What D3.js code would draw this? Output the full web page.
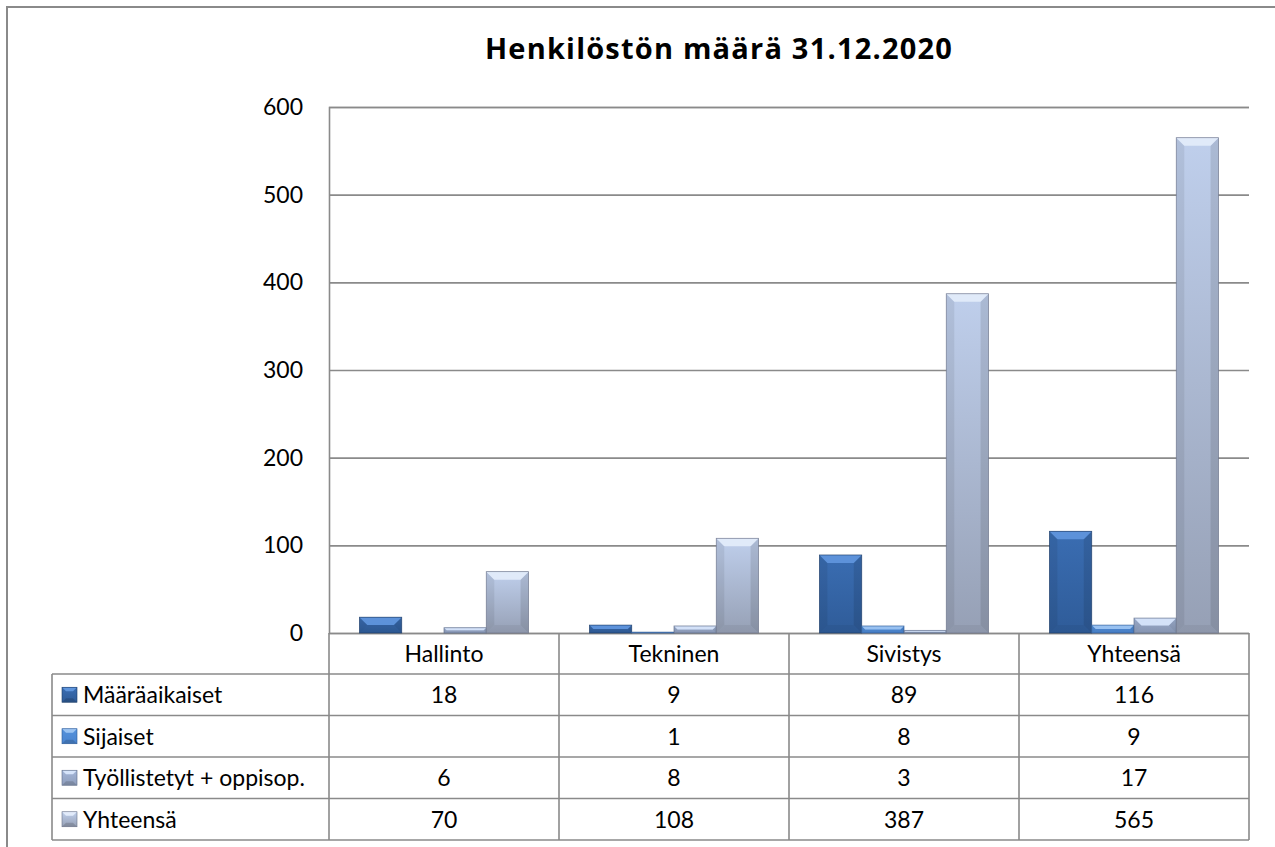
<!DOCTYPE html>
<html><head><meta charset="utf-8">
<script src="https://cdn.jsdelivr.net/npm/d3@7"></script>
<style>
html,body{margin:0;padding:0;background:#fff;}
svg{display:block;font-family:Lato,"Noto Sans",sans-serif;}
</style></head>
<body>
<svg id="chart" width="1275" height="847"></svg>
<script>
const categories = ["Hallinto","Tekninen","Sivistys","Yhteensä"];
const seriesNames = ["Määräaikaiset","Sijaiset","Työllistetyt + oppisop.","Yhteensä"];
const maaraaikaiset = [18, 9, 89, 116];
const sijaiset = [null, 1, 8, 9];
const tyollistetyt = [6, 8, 3, 17];
const yhteensa = [70, 108, 387, 565];
const yTicks = [0, 100, 200, 300, 400, 500, 600];
const title = "Henkilöstön määrä 31.12.2020";

const seriesValues = [maaraaikaiset, sijaiset, tyollistetyt, yhteensa];
const palette = [
  {ft:"#3a6db2", fb:"#2f5c99", top:"#5f95dc", edge:"#1d3c68"},
  {ft:"#5592dc", fb:"#4a84cf", top:"#9cc4f2", edge:"#2d5a96"},
  {ft:"#a4b6d8", fb:"#8e9dbb", top:"#d6e4fa", edge:"#5c6a86"},
  {ft:"#bfcfec", fb:"#96a0b5", top:"#e2ebfa", edge:"#6a7288"}
];
const FS = 23;

const svg = d3.select("#chart");
const defs = svg.append("defs");
palette.forEach((p,i)=>{
  const g = defs.append("linearGradient").attr("id","g"+i).attr("x1",0).attr("y1",0).attr("x2",0).attr("y2",1);
  g.append("stop").attr("offset","0%").attr("stop-color",p.ft);
  g.append("stop").attr("offset","100%").attr("stop-color",p.fb);
});

// outer frame
svg.append("rect").attr("x",7).attr("y",7).attr("width",1400).attr("height",1000)
  .attr("fill","none").attr("stroke","#8a8a8a").attr("stroke-width",2);

const plotL = 329, plotR = 1249, plotT = 107, plotB = 633;
const y = d3.scaleLinear().domain([0,600]).range([plotB, plotT]);
const x0 = d3.scaleBand().domain(categories).range([plotL, plotR]).padding(0);
const x1 = d3.scaleBand().domain(seriesNames).range([0, x0.bandwidth()]).paddingInner(0).paddingOuter(0.72);

// title
svg.append("text").attr("x",719).attr("y",59).attr("text-anchor","middle")
  .attr("font-family","'Open Sans',Lato,sans-serif").attr("letter-spacing",1.2)
  .attr("font-size",29).attr("font-weight","bold").attr("fill","#000").text(title);

// y axis with gridlines
const yAxis = svg.append("g").attr("transform",`translate(${plotL},0)`)
  .call(d3.axisLeft(y).tickValues(yTicks).tickSize(-(plotR-plotL)).tickPadding(26).tickFormat(d3.format("d")));
yAxis.select(".domain").attr("stroke","#8a8a8a").attr("stroke-width",1.6);
yAxis.selectAll(".tick line").attr("stroke","#8a8a8a").attr("stroke-width",1.6);
yAxis.selectAll(".tick text").attr("font-size",FS).attr("fill","#000").attr("font-family","Lato,'Noto Sans',sans-serif");

// bars
function bevelBar(g, x, yTop, w, h, i){
  const p = palette[i];
  const b = Math.min(8, h/2, w/2);
  g.append("rect").attr("x",x).attr("y",yTop).attr("width",w).attr("height",h).attr("fill",`url(#g${i})`);
  g.append("path").attr("d",`M${x},${yTop}L${x+b},${yTop+b}L${x+b},${yTop+h-b}L${x},${yTop+h}Z`).attr("fill","#000").attr("opacity",0.07);
  g.append("path").attr("d",`M${x+w},${yTop}L${x+w-b},${yTop+b}L${x+w-b},${yTop+h-b}L${x+w},${yTop+h}Z`).attr("fill","#000").attr("opacity",0.1);
  g.append("path").attr("d",`M${x},${yTop+h}L${x+b},${yTop+h-b}L${x+w-b},${yTop+h-b}L${x+w},${yTop+h}Z`).attr("fill","#000").attr("opacity",0.05);
  g.append("path").attr("d",`M${x},${yTop}L${x+w},${yTop}L${x+w-b},${yTop+b}L${x+b},${yTop+b}Z`).attr("fill",p.top).attr("opacity",0.95);
  g.append("rect").attr("x",x).attr("y",yTop).attr("width",w).attr("height",h).attr("fill","none").attr("stroke",p.edge).attr("stroke-width",0.8).attr("opacity",0.8);
}
const barsG = svg.append("g");
categories.forEach((c,ci)=>{
  seriesNames.forEach((s,si)=>{
    const v = seriesValues[si][ci];
    if (v === null || v === undefined) return;
    const x = x0(c) + x1(s);
    const yt = y(v);
    bevelBar(barsG, x, yt, x1.bandwidth(), plotB - yt, si);
  });
});

// data table
const rowTops = [674, 715.5, 757, 798.5, 840];
const tableL = 52;
const lineCol = "#8a8a8a";
const tg = svg.append("g");
x0.domain().forEach(c=>{
  tg.append("line").attr("x1",x0(c)+x0.bandwidth()).attr("x2",x0(c)+x0.bandwidth()).attr("y1",plotB).attr("y2",rowTops[4]).attr("stroke",lineCol).attr("stroke-width",1.6);
});
tg.append("line").attr("x1",plotL).attr("x2",plotL).attr("y1",plotB).attr("y2",rowTops[4]).attr("stroke",lineCol).attr("stroke-width",1.6);
tg.append("line").attr("x1",tableL).attr("x2",tableL).attr("y1",rowTops[0]).attr("y2",rowTops[4]).attr("stroke",lineCol).attr("stroke-width",1.6);
rowTops.forEach(r=>{
  tg.append("line").attr("x1",tableL).attr("x2",plotR).attr("y1",r).attr("y2",r).attr("stroke",lineCol).attr("stroke-width",1.6);
});
categories.forEach(c=>{
  tg.append("text").attr("x",x0(c)+x0.bandwidth()/2).attr("y",(plotB+rowTops[0])/2).attr("dy","0.36em")
    .attr("text-anchor","middle").attr("font-size",FS).attr("fill","#000").text(c);
});
seriesNames.forEach((s,si)=>{
  const cy = (rowTops[si]+rowTops[si+1])/2;
  const p = palette[si];
  const mx = 62, ms = 15, my = cy - ms/2;
  const mg = tg.append("g");
  mg.append("rect").attr("x",mx).attr("y",my).attr("width",ms).attr("height",ms).attr("fill",`url(#g${si})`);
  mg.append("path").attr("d",`M${mx},${my}L${mx+ms},${my}L${mx+ms-4},${my+4}L${mx+4},${my+4}Z`).attr("fill",p.top);
  mg.append("path").attr("d",`M${mx},${my+ms}L${mx+4},${my+ms-4}L${mx+ms-4},${my+ms-4}L${mx+ms},${my+ms}Z`).attr("fill","#000").attr("opacity",0.15);
  mg.append("rect").attr("x",mx).attr("y",my).attr("width",ms).attr("height",ms).attr("fill","none").attr("stroke",p.edge).attr("stroke-width",0.6);
  tg.append("text").attr("x",83).attr("y",cy).attr("dy","0.36em").attr("font-size",FS).attr("fill","#000").text(s);
  categories.forEach((c,ci)=>{
    const v = seriesValues[si][ci];
    if (v === null || v === undefined) return;
    tg.append("text").attr("x",x0(c)+x0.bandwidth()/2).attr("y",cy).attr("dy","0.36em")
      .attr("text-anchor","middle").attr("font-size",FS).attr("fill","#000").text(v);
  });
});
</script>
</body></html>
